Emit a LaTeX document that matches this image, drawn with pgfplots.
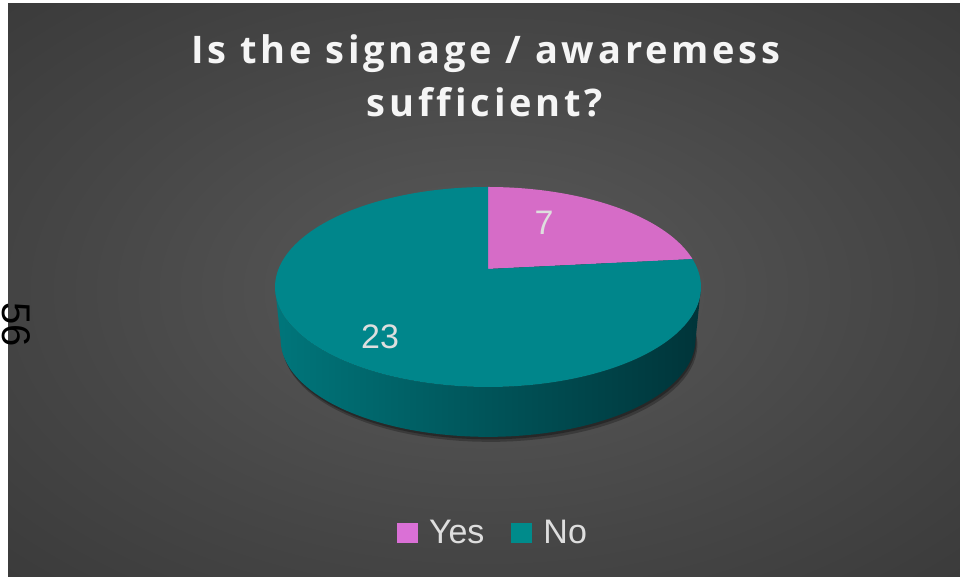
\documentclass[border=0pt]{standalone}
\usepackage{pgfplots}
\usepackage{pgfplotstable}
\pgfplotsset{compat=1.18}
\usepackage{fontspec}
\setmainfont{Liberation Sans}
\newfontfamily\titlefont{Open Sans}[LetterSpace=10, Ligatures=NoCommon]
\definecolor{cyes}{RGB}{214,108,199}
\definecolor{cno}{RGB}{0,134,139}
\definecolor{lyes}{RGB}{218,112,214}
\definecolor{lno}{RGB}{0,139,139}
\definecolor{sideL}{RGB}{0,118,123}
\definecolor{sideM}{RGB}{0,84,89}
\definecolor{sideR}{RGB}{0,52,57}
\definecolor{lbl}{RGB}{222,222,222}
\definecolor{ttl}{RGB}{245,245,245}
\definecolor{bgA}{RGB}{90,90,90}
\definecolor{bgB}{RGB}{70,70,70}
\definecolor{bgC}{RGB}{47,47,47}
\definecolor{bgD}{RGB}{36,36,36}
\pgfdeclareradialshading{bgshade}{\pgfpoint{0bp}{0bp}}{color(0bp)=(bgA); color(22bp)=(bgB); color(50bp)=(bgC); color(72bp)=(bgD)}

\pgfplotstableread{
label value
Yes 7
No 23
}\piedata

\begin{document}%
\begin{tikzpicture}[x=1pt,y=1pt]
\pgfplotstablegetelem{0}{value}\of\piedata \let\vyes\pgfplotsretval
\pgfplotstablegetelem{1}{value}\of\piedata \let\vno\pgfplotsretval
\pgfmathsetmacro\aend{90-360*\vyes/(\vyes+\vno)}
\pgfmathsetmacro\astart{\aend-360*\vno/(\vyes+\vno)}
\fill[white] (0,0) rectangle (960,577);
\fill[bgD] (8,0) rectangle (960,573);
\shade[shading=bgshade] (8,0) rectangle (960,573);
\begin{axis}[
  x=1pt, y=1pt, xmin=0, xmax=960, ymin=0, ymax=577,
  at={(0,0)}, anchor=origin, hide axis, clip=false,
  declare function={
    tx(\t)=488+209.5*cos(\t)/(1+0.18*sin(\t));
    ty(\t)=308+96.76*sin(\t)/(1+0.18*sin(\t));
    bx(\t)=488+204*cos(\t)/(1+0.18*sin(\t));
    by(\t)=255+94.2*sin(\t)/(1+0.18*sin(\t));
    st(\s)=(\s<=1) ? (190.4+159.2*\s) : (349.6-159.2*(\s-1));
  },
  legend columns=2,
  legend style={at={(0.5135,0.0763)}, anchor=center, draw=none, fill=none,
    text=lbl, font=\fontsize{34}{34}\selectfont,
    /tikz/every odd column/.append style={column sep=9pt},
    /tikz/every even column/.append style={column sep=25pt}},
  legend image code/.code={\fill[#1] (0pt,-10pt) rectangle (21pt,10pt);},
]
% shadow
\addplot[forget plot, draw=none, fill=black, opacity=0.25, domain=0:360, samples=120, variable=\t]
  ({bx(t)+2},{by(t)-5}) -- cycle;
\addplot[forget plot, draw=none, fill=black, opacity=0.3, domain=0:360, samples=120, variable=\t]
  ({bx(t)+1},{by(t)-2.5}) -- cycle;
% side wall
\addplot[forget plot, draw=none, left color=sideL, right color=sideR, middle color=sideM,
  domain=0:2, samples=201, variable=\s]
  ({(\s<=1) ? tx(st(\s)) : bx(st(\s))},{(\s<=1) ? ty(st(\s)) : by(st(\s))}) -- cycle;
% top faces
\addplot[draw=none, fill=cyes, domain=\aend:90, samples=80, variable=\t,
  legend image post style={fill=lyes}]
  ({tx(t)},{ty(t)}) -- (axis cs:488,308) -- cycle;
\addlegendentry{Yes}
\addplot[draw=none, fill=cno, domain=\astart:\aend, samples=200, variable=\t,
  legend image post style={fill=lno}]
  ({tx(t)},{ty(t)}) -- (axis cs:488,308) -- cycle;
\addlegendentry{No}
% data labels
\node[text=lbl, font=\fontsize{34}{34}\selectfont, inner sep=0pt] at (axis cs:544,354.5) {\vyes};
\node[text=lbl, font=\fontsize{34}{34}\selectfont, inner sep=0pt] at (axis cs:380,240) {\vno};
% title
\node[anchor=base, text=ttl, font=\titlefont\bfseries\fontsize{38}{38}\selectfont] at (axis cs:486,513.7) {Is the signage / awaremess};
\node[anchor=base, text=ttl, font=\titlefont\bfseries\fontsize{38}{38}\selectfont] at (axis cs:485,460.3) {sufficient?};
\end{axis}
\node[rotate=-90, text=black, font=\fontsize{40}{40}\selectfont, inner sep=0pt] at (16,252.5) {56};
\pgfresetboundingbox
\path[use as bounding box] (0,0) rectangle (960,577);
\end{tikzpicture}%
\end{document}
